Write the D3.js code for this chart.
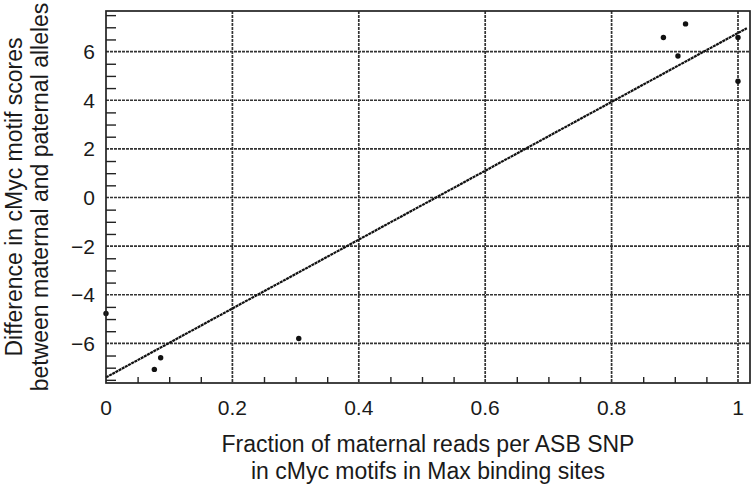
<!DOCTYPE html>
<html>
<head>
<meta charset="utf-8">
<script src="https://cdn.jsdelivr.net/npm/d3@7"></script>
<style>
  body { margin: 0; background: #fff; }
  text { font-family: "Liberation Sans", Arial, Helvetica, sans-serif; fill: #1a1a1a; }
</style>
</head>
<body>
<div id="chart"></div>
<script>
// data
const fracMaternal = [0, 0.0765, 0.0865, 0.305, 0.882, 0.905, 0.917, 1.0, 1.0]
const motifDiff = [-4.77, -7.07, -6.59, -5.8, 6.58, 5.82, 7.14, 6.58, 4.78]

const xTicks = [0, 0.2, 0.4, 0.6, 0.8, 1]
const xTickLabels = ["0", "0.2", "0.4", "0.6", "0.8", "1"]
const yTicks = [-6, -4, -2, 0, 2, 4, 6]
const yTickLabels = ["\u22126", "\u22124", "\u22122", "0", "2", "4", "6"]

const xTitle = ["Fraction of maternal reads per ASB SNP", "in cMyc motifs in Max binding sites"]
const yTitle = ["Difference in cMyc motif scores", "between maternal and paternal alleles"]

const W = 752, H = 485
const MARGIN = { LEFT: 106, RIGHT: 2, TOP: 11, BOTTOM: 102 }
const WIDTH = W - MARGIN.LEFT - MARGIN.RIGHT
const HEIGHT = H - MARGIN.TOP - MARGIN.BOTTOM

const svg = d3.select("#chart").append("svg")
  .attr("width", W)
  .attr("height", H)

const g = svg.append("g")
  .attr("transform", `translate(${MARGIN.LEFT}, ${MARGIN.TOP})`)

// Scales
const x = d3.scaleLinear()
  .domain([0, 1.019])
  .range([0, WIDTH])
const y = d3.scaleLinear()
  .domain([-7.63, 7.67])
  .range([HEIGHT, 0])

// Grid
g.append("g").selectAll("line")
  .data(xTicks.filter(d => d > 0))
  .join("line")
    .attr("x1", d => x(d)).attr("x2", d => x(d))
    .attr("y1", 0).attr("y2", HEIGHT)
    .attr("stroke", "#333")
    .attr("stroke-width", 1.7)
    .attr("stroke-dasharray", "3,1")
g.append("g").selectAll("line")
  .data(yTicks)
  .join("line")
    .attr("x1", 0).attr("x2", WIDTH)
    .attr("y1", d => y(d)).attr("y2", d => y(d))
    .attr("stroke", "#333")
    .attr("stroke-width", 1.7)
    .attr("stroke-dasharray", "3,1")

// Minor ticks (inside)
const xMinor = d3.range(0.05, 1.01, 0.05).filter(d => Math.abs(d * 5 - Math.round(d * 5)) > 1e-6)
g.append("g")
  .attr("transform", `translate(0, ${HEIGHT})`)
  .call(d3.axisBottom(x).tickValues(xMinor).tickSize(-6).tickFormat(""))
  .call(a => a.select(".domain").remove())
  .call(a => a.selectAll("line").attr("stroke", "#222").attr("stroke-width", 1.4))
const yMinor = d3.range(-7.5, 7.6, 0.5).filter(d => Math.abs(d / 2 - Math.round(d / 2)) > 1e-6)
g.append("g")
  .call(d3.axisLeft(y).tickValues(yMinor).tickSize(-10).tickFormat(""))
  .call(a => a.select(".domain").remove())
  .call(a => a.selectAll("line").attr("stroke", "#222").attr("stroke-width", 1.4))

// Tick labels
g.append("g").selectAll("text")
  .data(xTicks)
  .join("text")
    .attr("x", d => x(d))
    .attr("y", HEIGHT + 32)
    .attr("text-anchor", "middle")
    .attr("font-size", "21px")
    .text((d, i) => xTickLabels[i])
g.append("g").selectAll("text")
  .data(yTicks)
  .join("text")
    .attr("x", -11)
    .attr("y", d => y(d))
    .attr("dy", "0.36em")
    .attr("text-anchor", "end")
    .attr("font-size", "21px")
    .text((d, i) => yTickLabels[i])

// Regression line (least squares through the points)
const mx = d3.mean(fracMaternal), my = d3.mean(motifDiff)
const sxy = d3.sum(fracMaternal, (d, i) => (d - mx) * (motifDiff[i] - my))
const sxx = d3.sum(fracMaternal, d => (d - mx) * (d - mx))
const slope = sxy / sxx
const intercept = my - slope * mx
const fitX = [0, 1.014]
g.append("path")
  .datum(fitX)
  .attr("fill", "none")
  .attr("stroke", "#111")
  .attr("stroke-width", 2.2)
  .attr("stroke-dasharray", "3,0.6")
  .attr("d", d3.line().x(d => x(d)).y(d => y(intercept + slope * d)))

// Points
g.append("g").selectAll("circle")
  .data(fracMaternal)
  .join("circle")
    .attr("cx", d => x(d))
    .attr("cy", (d, i) => y(motifDiff[i]))
    .attr("r", 2.7)
    .attr("fill", "#111")

// Frame
g.append("rect")
  .attr("width", WIDTH)
  .attr("height", HEIGHT)
  .attr("fill", "none")
  .attr("stroke", "#222")
  .attr("stroke-width", 1.7)

// Axis titles
g.append("g").selectAll("text")
  .data(xTitle)
  .join("text")
    .attr("x", WIDTH / 2)
    .attr("y", (d, i) => HEIGHT + 69 + i * 27)
    .attr("text-anchor", "middle")
    .attr("font-size", "23px")
    .text(d => d)
g.append("g").selectAll("text")
  .data(yTitle)
  .join("text")
    .attr("transform", (d, i) => `translate(${-84 + i * 26}, ${HEIGHT / 2}) rotate(-90)`)
    .attr("text-anchor", "middle")
    .attr("font-size", "23px")
    .text(d => d)
</script>
</body>
</html>
